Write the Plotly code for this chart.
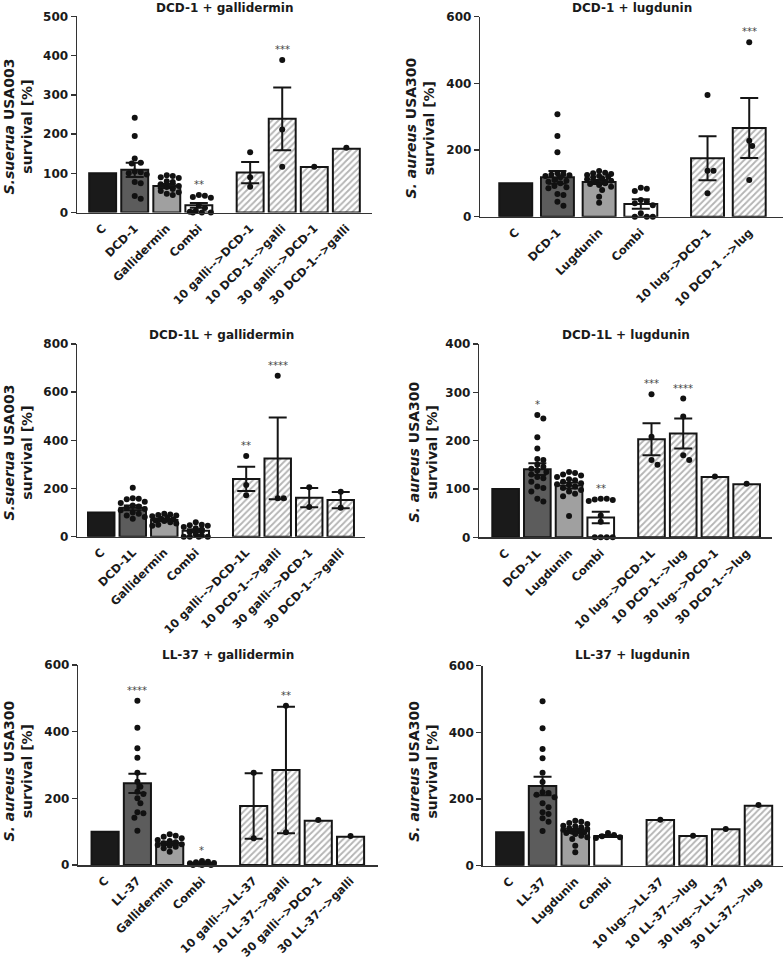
import plotly.graph_objects as go

W, H = 784, 960
FONT = "DejaVu Sans"

# ---------------- data ----------------
p1_title = "DCD-1 + gallidermin"
p1_ytitle = "<i>S.suerua</i> USA003<br>survival [%]"
p1_labels = ["C", "DCD-1", "Gallidermin", "Combi", "10 galli-->DCD-1", "10 DCD-1-->galli",
             "30 galli-->DCD-1", "30 DCD-1-->galli"]
p1_means = [100, 109, 68, 18.5, 102, 239, 116, 163]
p1_sems = [0, 18, 5, 6, 27, 80, 0, 0]
p1_points = [[], [242, 195, 138, 127, 125, 105, 103, 100, 97, 78, 75, 42, 35],
             [95, 93, 90, 88, 80, 78, 72, 68, 65, 60, 55, 52, 48, 45],
             [45, 43, 40, 38, 18, 12, 5, 2, 0, 0, 0],
             [154, 90, 66], [389, 212, 117], [117], [165]]
p1_sig = ["", "", "", "**", "", "***", "", ""]
p1_yticks = [0, 100, 200, 300, 400, 500]

p2_title = "DCD-1 + lugdunin"
p2_ytitle = "<i>S. aureus</i> USA300<br>survival [%]"
p2_labels = ["C", "DCD-1", "Lugdunin", "Combi", "10 lug-->DCD-1", "10 DCD-1 -->lug"]
p2_means = [100, 118, 104, 38, 175, 266]
p2_sems = [0, 19, 6, 14, 66, 90]
p2_points = [[], [307, 242, 193, 130, 128, 126, 124, 122, 118, 110, 108, 105, 100, 92, 88, 85, 68, 65, 45, 33],
             [137, 132, 130, 128, 125, 122, 120, 118, 115, 112, 108, 105, 100, 98, 95, 90, 80, 60, 42],
             [87, 84, 77, 50, 45, 40, 34, 10, 0, 0, 0],
             [365, 138, 138, 70], [523, 228, 212, 110]]
p2_sig = ["", "", "", "", "", "***"]
p2_yticks = [0, 200, 400, 600]

p3_title = "DCD-1L + gallidermin"
p3_ytitle = "<i>S.suerua</i> USA003<br>survival [%]"
p3_labels = ["C", "DCD-1L", "Gallidermin", "Combi", "10 galli-->DCD-1L", "10 DCD-1-->galli",
             "30 galli-->DCD-1", "30 DCD-1-->galli"]
p3_means = [100, 120, 69, 25, 240, 325, 162, 152]
p3_sems = [0, 10, 5, 6, 50, 170, 40, 34]
p3_points = [[], [203, 160, 158, 155, 145, 140, 130, 125, 120, 115, 110, 100, 95, 88, 82, 75],
             [95, 92, 90, 88, 85, 80, 75, 72, 68, 65, 60, 55, 50, 45],
             [60, 50, 48, 45, 40, 35, 30, 20, 10, 5, 0, 0, 0, 0],
             [335, 215, 172], [668, 160, 160], [205, 123], [187, 120]]
p3_sig = ["", "", "", "", "**", "****", "", ""]
p3_yticks = [0, 200, 400, 600, 800]

p4_title = "DCD-1L + lugdunin"
p4_ytitle = "<i>S. aureus</i> USA300<br>survival [%]"
p4_labels = ["C", "DCD-1L", "Lugdunin", "Combi", "10 lug-->DCD-1L", "10 DCD-1-->lug",
             "30 lug-->DCD-1", "30 DCD-1-->lug"]
p4_means = [100, 141, 107, 41, 203, 215, 125, 110]
p4_sems = [0, 12, 6, 12, 33, 31, 0, 0]
p4_points = [[], [253, 246, 207, 184, 162, 160, 150, 146, 142, 138, 135, 130, 125, 122, 115, 105, 102, 95, 80, 74],
             [135, 133, 130, 128, 125, 120, 118, 115, 112, 110, 108, 105, 102, 98, 95, 90, 85, 44],
             [80, 80, 78, 77, 75, 45, 32, 0, 0, 0, 0],
             [296, 208, 160, 150], [287, 250, 170, 160], [126], [111]]
p4_sig = ["", "*", "", "**", "***", "****", "", ""]
p4_yticks = [0, 100, 200, 300, 400]

p5_title = "LL-37 + gallidermin"
p5_ytitle = "<i>S. aureus</i> USA300<br>survival [%]"
p5_labels = ["C", "LL-37", "Gallidermin", "Combi", "10 galli-->LL-37", "10 LL-37-->galli",
             "30 galli-->DCD-1", "30 LL-37-->galli"]
p5_means = [100, 245, 65, 5, 177, 285, 133, 85]
p5_sems = [0, 29, 5, 1.5, 98.5, 190, 0, 0]
p5_points = [[], [493, 412, 350, 322, 277, 250, 235, 220, 213, 200, 185, 158, 155, 142, 103],
             [92, 88, 85, 80, 75, 72, 68, 65, 62, 60, 58, 55, 50, 40],
             [12, 10, 8, 6, 5, 3, 2, 0, 0, 0],
             [277, 80], [478, 98], [135], [87]]
p5_sig = ["", "****", "", "*", "", "**", "", ""]
p5_yticks = [0, 200, 400, 600]

p6_title = "LL-37 + lugdunin"
p6_ytitle = "<i>S. aureus</i> USA300<br>survival [%]"
p6_labels = ["C", "LL-37", "Lugdunin", "Combi", "10 lug-->LL-37", "10 LL-37-->lug",
             "30 lug-->LL-37", "30 LL-37-->lug"]
p6_means = [100, 239, 104, 89, 137, 89, 109, 180]
p6_sems = [0, 28, 6, 3, 0, 0, 0, 0]
p6_points = [[], [493, 412, 350, 322, 279, 251, 220, 218, 213, 205, 187, 175, 160, 155, 142, 132, 104],
             [135, 132, 128, 125, 120, 118, 115, 112, 110, 108, 105, 102, 100, 98, 95, 90, 85, 80, 60, 40],
             [98, 92, 88, 85, 83],
             [138], [90], [110], [182]]
p6_sig = ["", "", "", "", "", "", "", ""]
p6_yticks = [0, 200, 400, 600]

positions = [0, 1, 2, 3, 4.6, 5.6, 6.6, 7.6]

# ---------------- layout geometry (pixels) ----------------
# (x0, x1, ytop, ybottom, xrange, bar width, ytitle center x, ytitle center y, title y)
geom = [
    (77, 372, 16.4, 212.6, [-0.8, 8.4], 0.84, 17.5, 127, 8),
    (480.3, 783, 16.7, 216.7, [-0.85, 6.41], 0.79, 419.5, 128, 8),
    (77.3, 365, 344, 536.7, [-0.76, 8.37], 0.84, 17.5, 453, 335),
    (479.3, 771.7, 344, 537.3, [-0.83, 8.39], 0.84, 422.5, 452, 335),
    (78.3, 378, 665, 865, [-0.83, 8.45], 0.84, 17.5, 771, 655),
    (482.7, 783, 665.7, 865.7, [-0.83, 8.35], 0.84, 422.8, 771, 655),
]

panels = [
    (p1_title, p1_ytitle, p1_labels, p1_means, p1_sems, p1_points, p1_sig, p1_yticks),
    (p2_title, p2_ytitle, p2_labels, p2_means, p2_sems, p2_points, p2_sig, p2_yticks),
    (p3_title, p3_ytitle, p3_labels, p3_means, p3_sems, p3_points, p3_sig, p3_yticks),
    (p4_title, p4_ytitle, p4_labels, p4_means, p4_sems, p4_points, p4_sig, p4_yticks),
    (p5_title, p5_ytitle, p5_labels, p5_means, p5_sems, p5_points, p5_sig, p5_yticks),
    (p6_title, p6_ytitle, p6_labels, p6_means, p6_sems, p6_points, p6_sig, p6_yticks),
]

solid_colors = ["#1a1a1a", "#5c5c5c", "#a0a0a0", "#ffffff"]


def swarm(values, center, ppx, ppy, d=6.0, half=12.0):
    placed = []
    out = []
    cands = [0.0]
    k = 1
    while k * 3.0 <= half:
        cands += [k * 3.0, -k * 3.0]
        k += 1
    for v in values:
        yp = v * ppy
        chosen = None
        best, bestd = 0.0, -1
        for c in cands:
            md = min([((c - px) ** 2 + (yp - py) ** 2) ** 0.5 for px, py in placed] or [1e9])
            if md >= d * 0.95:
                chosen = c
                break
            if md > bestd:
                bestd, best = md, c
        if chosen is None:
            chosen = best
        placed.append((chosen, yp))
        out.append(center + chosen / ppx)
    return out


fig = go.Figure()
annotations = []
layout = {}

for i, (title, ytitle, labels, means, sems, points, sig, yticks) in enumerate(panels):
    x0, x1, yt, yb, xr, bw, ytx, yty, tty = geom[i]
    sfx = "" if i == 0 else str(i + 1)
    xa, ya = "x" + sfx, "y" + sfx
    n = len(labels)
    pos = positions[:n]
    ymax = yticks[-1]
    ppx = (x1 - x0) / (xr[1] - xr[0])
    ppy = (yb - yt) / ymax

    fig.add_trace(go.Bar(x=pos[:4], y=means[:4], width=bw, xaxis=xa, yaxis=ya,
                         marker=dict(color=solid_colors, line=dict(color="#151515", width=2)),
                         showlegend=False, hoverinfo="skip"))
    fig.add_trace(go.Bar(x=pos[4:], y=means[4:], width=bw, xaxis=xa, yaxis=ya,
                         marker=dict(color="white",
                                     pattern=dict(shape="/", fgcolor="#6a6a6a", bgcolor="white",
                                                  size=4.5, solidity=0.4),
                                     line=dict(color="#151515", width=2)),
                         showlegend=False, hoverinfo="skip"))

    ex = [pos[j] for j in range(n) if sems[j] > 0]
    ey = [means[j] for j in range(n) if sems[j] > 0]
    es = [sems[j] for j in range(n) if sems[j] > 0]
    fig.add_trace(go.Scatter(x=ex, y=ey, mode="markers", xaxis=xa, yaxis=ya,
                             marker=dict(size=1, color="rgba(0,0,0,0)"),
                             error_y=dict(type="data", array=es, color="#151515", thickness=2, width=9),
                             showlegend=False, hoverinfo="skip", cliponaxis=False))

    px_all, py_all = [], []
    for j in range(n):
        if points[j]:
            px_all += swarm(points[j], pos[j], ppx, ppy)
            py_all += points[j]
    fig.add_trace(go.Scatter(x=px_all, y=py_all, mode="markers", xaxis=xa, yaxis=ya,
                             marker=dict(size=6, color="#111111"),
                             showlegend=False, hoverinfo="skip", cliponaxis=False))

    for j in range(n):
        if sig[j]:
            top = max(points[j] + [means[j] + sems[j]])
            annotations.append(dict(x=pos[j], y=top, xref=xa, yref=ya, text=sig[j], showarrow=False,
                                    yanchor="bottom", yshift=3,
                                    font=dict(family=FONT, size=10, color="#444444")))

    layout["xaxis" + sfx] = dict(domain=[x0 / W, x1 / W], range=xr, anchor=ya, automargin=False,
                                 showline=True, linecolor="#333333", linewidth=1.5,
                                 tickvals=pos, ticktext=labels, tickangle=-45, ticks="",
                                 ticklabelstandoff=3,
                                 tickfont=dict(family=FONT, size=11.5, color="#1a1a1a", weight="bold"),
                                 showgrid=False, zeroline=False, fixedrange=True)
    layout["yaxis" + sfx] = dict(domain=[1 - yb / H, 1 - yt / H], range=[0, ymax], anchor=xa,
                                 automargin=False,
                                 showline=True, linecolor="#333333", linewidth=1.5,
                                 ticks="outside", ticklen=5, tickwidth=1.5, tickcolor="#333333",
                                 tickvals=yticks,
                                 tickfont=dict(family=FONT, size=12, color="#1a1a1a", weight="bold"),
                                 showgrid=False, zeroline=False, fixedrange=True)

    annotations.append(dict(x=(x0 + x1) / 2 / W, y=1 - tty / H, xref="paper", yref="paper",
                            text=title, showarrow=False, xanchor="center", yanchor="middle",
                            font=dict(family=FONT, size=12, color="#1a1a1a", weight="bold")))
    annotations.append(dict(x=ytx / W, y=1 - yty / H, xref="paper", yref="paper",
                            text=ytitle, showarrow=False, xanchor="center", yanchor="middle",
                            textangle=-90,
                            font=dict(family=FONT, size=14, color="#1a1a1a", weight="bold")))

fig.update_layout(width=W, height=H, margin=dict(l=0, r=0, t=0, b=0),
                  paper_bgcolor="white", plot_bgcolor="white", barmode="overlay",
                  annotations=annotations, **layout)

fig.write_html("out.html", config={"displayModeBar": False, "staticPlot": True},
               post_script="document.body.style.margin='0px';document.body.style.padding='0px';")
